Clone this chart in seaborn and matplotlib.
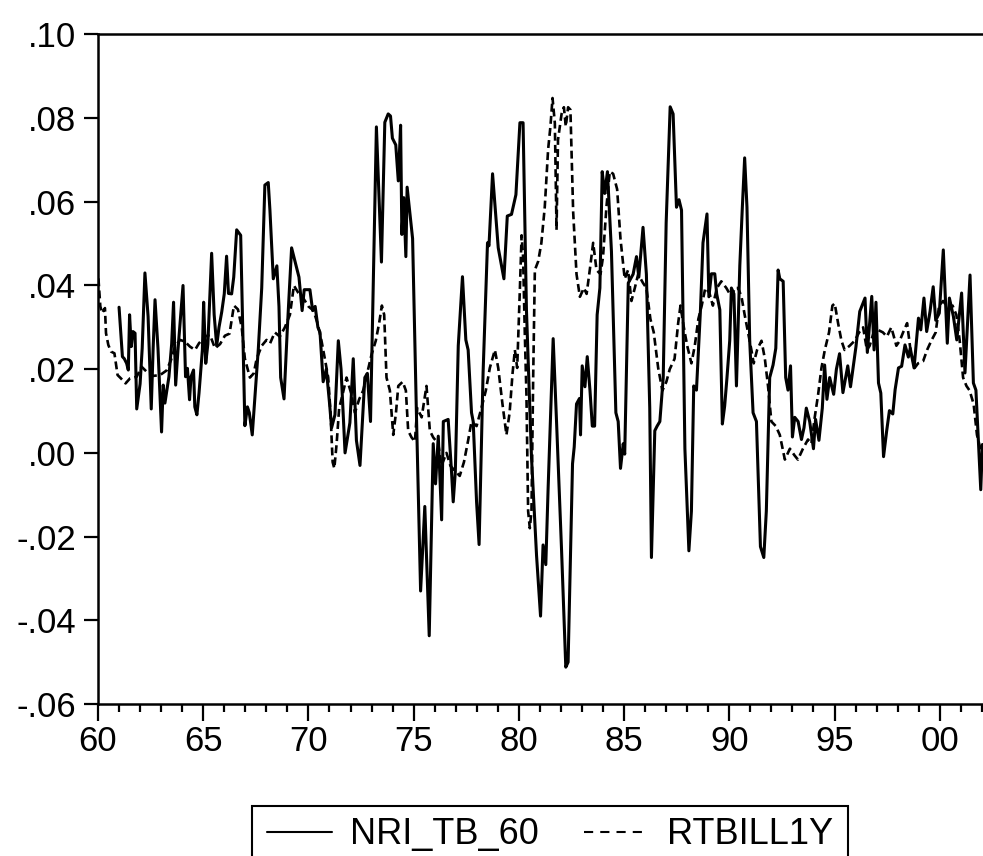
import numpy as np
import pandas as pd
import matplotlib
matplotlib.use("Agg")
import matplotlib.pyplot as plt
from matplotlib.ticker import FuncFormatter, MultipleLocator
from matplotlib.lines import Line2D
from matplotlib.patches import Rectangle
import seaborn as sns

sns.set_theme(style="ticks")
plt.rcParams['font.family'] = ['Liberation Sans', 'DejaVu Sans']

# NRI_TB_60 (solid line): decimal year
nri_year = [1961.00, 1961.16, 1961.25, 1961.36, 1961.44, 1961.50, 1961.58, 1961.66, 1961.76, 1961.84,
            1962.00, 1962.10, 1962.23, 1962.38, 1962.53, 1962.62, 1962.71, 1962.85, 1963.02, 1963.10,
            1963.18, 1963.37, 1963.50, 1963.59, 1963.69, 1963.80, 1964.04, 1964.16, 1964.25, 1964.35,
            1964.42, 1964.54, 1964.60, 1964.70, 1964.80, 1964.96, 1965.02, 1965.12, 1965.22, 1965.40,
            1965.52, 1965.64, 1965.75, 1965.88, 1966.00, 1966.11, 1966.20, 1966.35, 1966.45, 1966.59,
            1966.78, 1966.98, 1967.10, 1967.19, 1967.33, 1967.48, 1967.62, 1967.78, 1967.93, 1968.09,
            1968.17, 1968.33, 1968.50, 1968.60, 1968.68, 1968.84, 1969.00, 1969.20, 1969.35, 1969.45,
            1969.55, 1969.70, 1969.80, 1970.07, 1970.20, 1970.32, 1970.45, 1970.55, 1970.70, 1970.85,
            1971.00, 1971.10, 1971.26, 1971.42, 1971.55, 1971.74, 1971.97, 1972.13, 1972.28, 1972.45,
            1972.68, 1972.80, 1972.95, 1973.23, 1973.47, 1973.63, 1973.79, 1973.90, 1973.99, 1974.15,
            1974.27, 1974.38, 1974.44, 1974.53, 1974.63, 1974.69, 1974.95, 1975.14, 1975.33, 1975.53,
            1975.74, 1975.93, 1976.04, 1976.17, 1976.33, 1976.41, 1976.64, 1976.80, 1976.88, 1976.98,
            1977.12, 1977.32, 1977.48, 1977.59, 1977.75, 1977.83, 1977.99, 1978.11, 1978.30, 1978.51,
            1978.58, 1978.75, 1979.02, 1979.29, 1979.45, 1979.65, 1979.86, 1980.05, 1980.20, 1980.36,
            1980.60, 1980.84, 1981.03, 1981.15, 1981.28, 1981.39, 1981.63, 1981.79, 1982.03, 1982.23,
            1982.34, 1982.55, 1982.63, 1982.74, 1982.88, 1982.93, 1983.01, 1983.14, 1983.25, 1983.38,
            1983.49, 1983.60, 1983.72, 1983.85, 1983.96, 1984.08, 1984.21, 1984.40, 1984.61, 1984.72,
            1984.83, 1984.96, 1985.03, 1985.20, 1985.43, 1985.59, 1985.70, 1985.90, 1986.06, 1986.22,
            1986.30, 1986.46, 1986.57, 1986.70, 1986.86, 1987.00, 1987.19, 1987.33, 1987.49, 1987.61,
            1987.73, 1987.89, 1988.08, 1988.20, 1988.31, 1988.44, 1988.63, 1988.75, 1988.94, 1989.03,
            1989.15, 1989.31, 1989.40, 1989.55, 1989.67, 1989.78, 1989.89, 1990.02, 1990.10, 1990.22,
            1990.34, 1990.50, 1990.62, 1990.73, 1990.84, 1990.97, 1991.13, 1991.29, 1991.48, 1991.64,
            1991.76, 1991.92, 1992.08, 1992.21, 1992.32, 1992.40, 1992.56, 1992.68, 1992.79, 1992.91,
            1993.00, 1993.11, 1993.27, 1993.43, 1993.55, 1993.66, 1993.82, 1994.00, 1994.10, 1994.26,
            1994.42, 1994.53, 1994.64, 1994.77, 1994.96, 1995.09, 1995.24, 1995.40, 1995.63, 1995.76,
            1996.02, 1996.20, 1996.45, 1996.56, 1996.77, 1996.88, 1996.97, 1997.09, 1997.20, 1997.33,
            1997.48, 1997.61, 1997.77, 1997.88, 1998.04, 1998.19, 1998.35, 1998.51, 1998.60, 1998.78,
            1998.99, 1999.10, 1999.25, 1999.38, 1999.54, 1999.69, 1999.81, 1999.98, 2000.17, 2000.36,
            2000.46, 2000.65, 2000.81, 2001.04, 2001.20, 2001.44, 2001.60, 2001.72, 2001.95, 2002.03]
nri_val = [.0348, .0230, .0225, .0214, .0198, .0330, .0254, .0290, .0286, .0105,
           .0165, .0250, .0430, .0326, .0105, .0250, .0366, .0250, .0050, .0162,
           .0119, .0182, .0260, .0360, .0162, .0246, .0400, .0182, .0202, .0127,
           .0182, .0198, .0110, .0091, .0143, .0246, .0360, .0214, .0260, .0477,
           .0330, .0256, .0300, .0337, .0380, .0470, .0381, .0380, .0420, .0533,
           .0520, .0065, .0110, .0096, .0043, .0149, .0250, .0394, .0640, .0646,
           .0580, .0416, .0447, .0350, .0180, .0129, .0300, .0490, .0460, .0440,
           .0420, .0340, .0390, .0390, .0340, .0350, .0300, .0288, .0170, .0200,
           .0120, .0060, .0091, .0268, .0200, .0000, .0072, .0225, .0030, -.0030,
           .0180, .0190, .0075, .0779, .0456, .0790, .0810, .0805, .0752, .0736,
           .0650, .0783, .0522, .0610, .0469, .0635, .0512, .0075, -.0330, -.0128,
           -.0437, .0022, -.0074, .0040, -.0160, .0075, .0080, -.0045, -.0117, -.0045,
           .0256, .0421, .0270, .0246, .0096, .0075, -.0117, -.0219, .0192, .0502,
           .0495, .0667, .0490, .0416, .0566, .0570, .0617, .0789, .0789, .0342,
           -.0010, -.0245, -.0390, -.0220, -.0267, -.0085, .0273, .0075, -.0234, -.0512,
           -.0500, -.0026, .0014, .0117, .0130, .0043, .0208, .0158, .0230, .0149,
           .0064, .0064, .0330, .0394, .0672, .0620, .0672, .0481, .0096, .0075,
           -.0037, .0022, -.0003, .0406, .0427, .0469, .0420, .0539, .0427, .0107,
           -.0250, .0053, .0064, .0075, .0180, .0550, .0827, .0810, .0587, .0605,
           .0580, .0010, -.0234, -.0139, .0160, .0150, .0342, .0502, .0571, .0373,
           .0428, .0428, .0380, .0342, .0069, .0112, .0180, .0268, .0394, .0380,
           .0160, .0448, .0587, .0705, .0587, .0268, .0096, .0075, -.0224, -.0250,
           -.0139, .0180, .0210, .0250, .0437, .0416, .0410, .0180, .0150, .0208,
           .0038, .0085, .0075, .0032, .0060, .0107, .0075, .0010, .0080, .0030,
           .0107, .0210, .0128, .0180, .0140, .0200, .0237, .0144, .0208, .0158,
           .0254, .0338, .0370, .0240, .0374, .0246, .0360, .0167, .0143, -.0009,
           .0053, .0101, .0093, .0151, .0203, .0207, .0258, .0229, .0250, .0203,
           .0322, .0294, .0370, .0290, .0338, .0397, .0317, .0334, .0485, .0262,
           .0370, .0326, .0270, .0382, .0191, .0425, .0167, .0150, -.0088, .0020]

# RTBILL1Y (dashed line)
rtb_year = [1960.02, 1960.11, 1960.20, 1960.33, 1960.38, 1960.49, 1960.62, 1960.78, 1960.93, 1961.09,
            1961.31, 1961.52, 1961.84, 1962.07, 1962.31, 1962.63, 1962.95, 1963.26, 1963.47, 1963.66,
            1963.90, 1964.13, 1964.37, 1964.61, 1964.80, 1965.08, 1965.32, 1965.56, 1965.80, 1966.03,
            1966.25, 1966.46, 1966.65, 1966.83, 1966.98, 1967.22, 1967.40, 1967.54, 1967.78, 1968.01,
            1968.18, 1968.40, 1968.64, 1968.88, 1969.12, 1969.31, 1969.51, 1969.75, 1970.00, 1970.24,
            1970.43, 1970.62, 1970.78, 1970.94, 1971.05, 1971.15, 1971.23, 1971.34, 1971.46, 1971.62,
            1971.81, 1972.05, 1972.21, 1972.41, 1972.60, 1972.79, 1973.00, 1973.20, 1973.36, 1973.49,
            1973.60, 1973.71, 1973.87, 1974.03, 1974.16, 1974.27, 1974.48, 1974.63, 1974.74, 1974.90,
            1975.06, 1975.17, 1975.38, 1975.61, 1975.77, 1975.93, 1976.17, 1976.32, 1976.56, 1976.75,
            1976.96, 1977.19, 1977.39, 1977.59, 1977.75, 1977.99, 1978.22, 1978.43, 1978.62, 1978.86,
            1979.02, 1979.22, 1979.41, 1979.56, 1979.70, 1979.81, 1979.92, 1980.05, 1980.13, 1980.20,
            1980.28, 1980.36, 1980.44, 1980.52, 1980.60, 1980.68, 1980.76, 1980.92, 1981.07, 1981.23,
            1981.39, 1981.50, 1981.60, 1981.71, 1981.79, 1981.86, 1982.03, 1982.14, 1982.23, 1982.34,
            1982.45, 1982.58, 1982.74, 1982.90, 1983.09, 1983.22, 1983.37, 1983.53, 1983.69, 1983.88,
            1984.00, 1984.16, 1984.32, 1984.48, 1984.67, 1984.83, 1985.03, 1985.19, 1985.35, 1985.51,
            1985.67, 1985.90, 1986.06, 1986.25, 1986.41, 1986.62, 1986.82, 1987.01, 1987.17, 1987.40,
            1987.57, 1987.68, 1987.84, 1988.00, 1988.20, 1988.36, 1988.53, 1988.69, 1988.86, 1989.05,
            1989.22, 1989.41, 1989.62, 1989.86, 1990.10, 1990.26, 1990.42, 1990.58, 1990.73, 1990.89,
            1991.05, 1991.16, 1991.32, 1991.53, 1991.69, 1991.84, 1992.00, 1992.21, 1992.40, 1992.64,
            1992.88, 1993.10, 1993.26, 1993.50, 1993.74, 1993.90, 1994.06, 1994.22, 1994.38, 1994.54,
            1994.74, 1994.90, 1995.01, 1995.17, 1995.33, 1995.48, 1995.72, 1995.96, 1996.17, 1996.36,
            1996.54, 1996.67, 1996.86, 1997.06, 1997.30, 1997.49, 1997.70, 1997.94, 1998.10, 1998.26,
            1998.45, 1998.61, 1998.81, 1998.97, 1999.21, 1999.40, 1999.60, 1999.81, 1999.97, 2000.16,
            2000.40, 2000.61, 2000.79, 2000.95, 2001.11, 2001.27, 2001.42, 2001.61, 2001.77, 2001.93,
            2002.03]
rtb_val = [.0417, .0350, .0334, .0346, .0286, .0258, .0242, .0238, .0186, .0178,
           .0166, .0178, .0182, .0206, .0194, .0184, .0186, .0197, .0222, .0254,
           .0270, .0266, .0254, .0246, .0262, .0278, .0282, .0250, .0260, .0280,
           .0285, .0352, .0343, .0300, .0225, .0180, .0190, .0225, .0256, .0270,
           .0262, .0288, .0278, .0300, .0330, .0400, .0383, .0370, .0350, .0340,
           .0310, .0268, .0225, .0180, .0096, -.0022, -.0037, .0022, .0107, .0139,
           .0180, .0139, .0096, .0128, .0149, .0190, .0235, .0268, .0310, .0352,
           .0330, .0180, .0149, .0043, .0096, .0160, .0170, .0149, .0053, .0037,
           .0027, .0107, .0085, .0160, .0053, .0037, .0022, -.0031, .0000, -.0031,
           -.0043, -.0055, -.0022, .0030, .0075, .0064, .0107, .0149, .0203, .0246,
           .0203, .0117, .0043, .0096, .0190, .0246, .0203, .0394, .0520, .0470,
           .0290, .0139, -.0139, -.0180, -.0139, .0180, .0437, .0458, .0502, .0587,
           .0725, .0780, .0848, .0788, .0533, .0748, .0810, .0826, .0780, .0826,
           .0820, .0576, .0427, .0373, .0394, .0380, .0437, .0502, .0437, .0427,
           .0469, .0587, .0672, .0667, .0630, .0511, .0416, .0437, .0363, .0394,
           .0427, .0406, .0394, .0320, .0288, .0203, .0149, .0170, .0200, .0225,
           .0310, .0352, .0300, .0256, .0214, .0256, .0320, .0352, .0394, .0383,
           .0352, .0394, .0410, .0394, .0373, .0394, .0394, .0373, .0330, .0288,
           .0246, .0214, .0246, .0268, .0225, .0160, .0075, .0064, .0043, -.0016,
           .0010, -.0006, -.0016, .0010, .0032, .0022, .0085, .0139, .0203, .0246,
           .0288, .0352, .0357, .0310, .0268, .0246, .0256, .0268, .0288, .0300,
           .0246, .0256, .0288, .0294, .0288, .0278, .0300, .0256, .0268, .0288,
           .0310, .0246, .0203, .0214, .0219, .0246, .0268, .0288, .0352, .0363,
           .0346, .0352, .0330, .0268, .0180, .0160, .0149, .0117, .0043, .0010,
           -.0010]

tick_years = [1960, 1965, 1970, 1975, 1980, 1985, 1990, 1995, 2000]
series_names = ["NRI_TB_60", "RTBILL1Y"]

df = pd.concat([
    pd.DataFrame({"year": nri_year, "value": nri_val, "series": series_names[0]}),
    pd.DataFrame({"year": rtb_year, "value": rtb_val, "series": series_names[1]}),
], ignore_index=True)

fig = plt.figure(figsize=(9.83, 8.56), dpi=100)
# axes run slightly past the right edge, like the cropped original
ax = fig.add_axes([0.0997, 0.1776, 0.9023, 0.7822])

dash = (0, (3.0, 1.6))
sns.lineplot(data=df[df.series == series_names[0]], x="year", y="value", ax=ax,
             color="black", lw=2.2, estimator=None, sort=False, legend=False)
sns.lineplot(data=df[df.series == series_names[1]], x="year", y="value", ax=ax,
             color="black", lw=1.9, linestyle=dash, estimator=None, sort=False, legend=False)

ax.set_xlim(1960, 2002.15)
ax.set_ylim(-0.06, 0.10)
ax.set_xlabel("")
ax.set_ylabel("")
ax.set_facecolor("white")

ax.set_xticks(tick_years)
ax.xaxis.set_minor_locator(MultipleLocator(1))
ax.xaxis.set_major_formatter(FuncFormatter(lambda v, p: f"{int(round(v)) % 100:02d}"))
ax.yaxis.set_major_locator(MultipleLocator(0.02))
ax.yaxis.set_major_formatter(FuncFormatter(lambda v, p: f"{v:.2f}".replace("0.", ".")))

ax.tick_params(axis="x", which="major", direction="out", length=12, width=1.6,
               labelsize=25, pad=3, colors="black")
ax.tick_params(axis="x", which="minor", direction="out", length=6, width=1.6, colors="black")
ax.tick_params(axis="y", which="major", direction="out", length=10, width=1.6,
               labelsize=25, pad=6, colors="black")

for side in ["left", "bottom", "top", "right"]:
    ax.spines[side].set_visible(True)
    ax.spines[side].set_color("black")
    ax.spines[side].set_linewidth(1.8)

# legend under the plot area, box open at the bottom edge of the picture
handles = [Line2D([], [], color="black", lw=1.5),
           Line2D([], [], color="black", lw=1.5, linestyle=(0, (4.4, 3.4)))]
leg = fig.legend(handles, series_names, loc="upper center", bbox_to_anchor=(550 / 983, 1 - 812 / 856),
                 ncol=2, fontsize=26, frameon=False, handlelength=1.8,
                 handletextpad=0.5, columnspacing=1.25, borderpad=0.15, borderaxespad=0)
for t in leg.get_texts():
    t.set_color("black")
fig.patches.append(Rectangle((252 / 983, -0.02), 596 / 983, 1 - 806 / 856 + 0.02,
                             transform=fig.transFigure, fill=False, edgecolor="black", lw=1.5))

fig.savefig("out.png", dpi=100, facecolor="white")
